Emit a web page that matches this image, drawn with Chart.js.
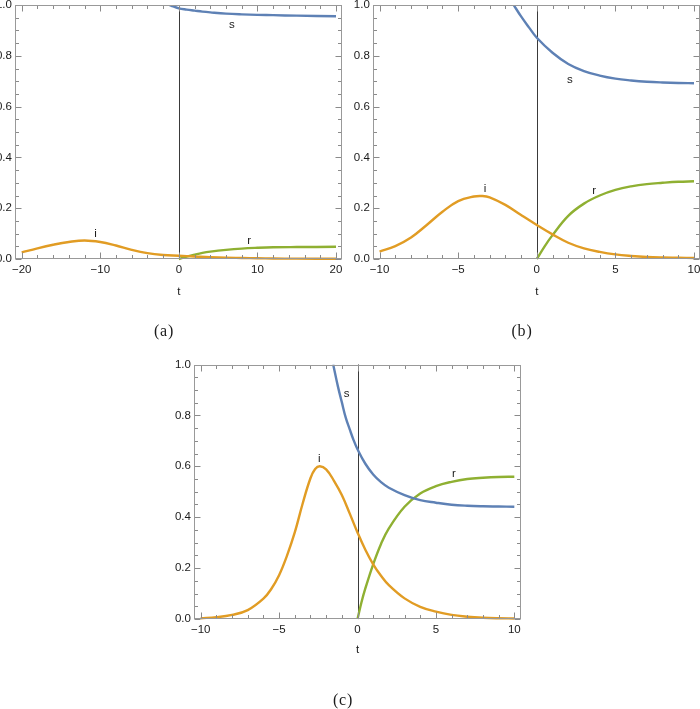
<!DOCTYPE html>
<html><head><meta charset="utf-8">
<script src="https://cdn.jsdelivr.net/npm/chart.js@4"></script>
<style>
html,body{margin:0;padding:0;width:700px;height:709px;overflow:hidden;background:#fff;position:relative}
canvas{position:absolute;left:-30px;top:-30px}
.cap{position:absolute;font-family:"Liberation Serif",serif;font-size:16px;color:#1a1a1a;width:60px;text-align:center;line-height:16px;letter-spacing:0.8px}
</style></head><body>
<canvas id="ca" width="760" height="770"></canvas>
<canvas id="cb" width="760" height="770"></canvas>
<canvas id="cc" width="760" height="770"></canvas>
<div class="cap" style="left:134px;top:323px">(a)</div>
<div class="cap" style="left:492px;top:323px">(b)</div>
<div class="cap" style="left:313px;top:692px">(c)</div>
<script>
// ---------- Data ----------
// Panel (a)
const tA_s = [-1.8, -1, 0, 1, 2, 3, 4, 6, 8, 10, 12, 15, 20];
const sA   = [1.008, 0.998, 0.987, 0.982, 0.978, 0.974, 0.971, 0.966, 0.963, 0.961, 0.960, 0.958, 0.956];
const tA_i = [-20, -18, -16, -14, -12, -10, -8, -6, -4, -2, 0, 2, 4, 6, 8, 10, 12, 15, 20];
const iA   = [0.026, 0.042, 0.056, 0.067, 0.073, 0.067, 0.053, 0.036, 0.023, 0.016, 0.013, 0.010, 0.007, 0.005, 0.004, 0.003, 0.002, 0.0015, 0.001];
const tA_r = [0, 1, 2, 3, 4, 6, 8, 10, 12, 15, 20];
const rA   = [0, 0.009, 0.017, 0.024, 0.029, 0.036, 0.041, 0.044, 0.046, 0.047, 0.048];
const xTicksA = [-20, -10, 0, 10, 20];

// Panel (b)
const tB_s = [-1.5, -1, -0.5, 0, 1, 2, 3, 4, 5, 6, 7, 8, 9, 10];
const sB   = [1.003, 0.955, 0.912, 0.871, 0.812, 0.768, 0.740, 0.722, 0.710, 0.703, 0.698, 0.695, 0.693, 0.692];
const tB_i = [-10, -9, -8, -7, -6, -5, -4, -3.5, -3, -2, -1, 0, 1, 2, 3, 4, 5, 6, 7, 8, 9, 10];
const iB   = [0.029, 0.051, 0.085, 0.134, 0.186, 0.228, 0.246, 0.248, 0.243, 0.213, 0.173, 0.134, 0.097, 0.064, 0.042, 0.028, 0.018, 0.012, 0.008, 0.006, 0.005, 0.004];
const tB_r = [0, 0.5, 1, 2, 3, 4, 5, 6, 7, 8, 9, 10];
const rB   = [0, 0.050, 0.094, 0.170, 0.218, 0.250, 0.272, 0.286, 0.295, 0.300, 0.304, 0.306];
const xTicksB = [-10, -5, 0, 5, 10];

// Panel (c)
const tC_s = [-1.55, -1.25, -1, -0.75, -0.5, -0.25, 0, 0.5, 1, 1.5, 2, 3, 4, 5, 6, 7, 8, 9, 10];
const sC   = [1.0, 0.914, 0.852, 0.791, 0.746, 0.703, 0.667, 0.610, 0.568, 0.538, 0.516, 0.487, 0.467, 0.457, 0.449, 0.445, 0.443, 0.442, 0.441];
const tC_i = [-10, -9, -8, -7, -6, -5.5, -5, -4.5, -4, -3.5, -3, -2.7, -2.4, -2, -1.5, -1, -0.5, 0, 0.5, 1, 1.5, 2, 3, 4, 5, 6, 7, 8, 9, 10];
const iC   = [0.003, 0.007, 0.016, 0.035, 0.080, 0.118, 0.172, 0.248, 0.340, 0.453, 0.553, 0.589, 0.600, 0.588, 0.543, 0.487, 0.415, 0.340, 0.272, 0.215, 0.170, 0.133, 0.081, 0.048, 0.029, 0.016, 0.009, 0.005, 0.003, 0.002];
const tC_r = [0, 0.25, 0.5, 1, 1.5, 2, 3, 4, 5, 6, 7, 8, 9, 10];
const rC   = [0, 0.065, 0.120, 0.215, 0.295, 0.356, 0.441, 0.493, 0.522, 0.539, 0.550, 0.555, 0.558, 0.559];
const xTicksC = [-10, -5, 0, 5, 10];

const yTicks = [0, 0.2, 0.4, 0.6, 0.8, 1.0];
const seriesNames = ['s', 'i', 'r'];
const seriesColors = ['#5E81B5', '#E19C24', '#8FB032'];

// ---------- Rendering ----------
const FONT = '"Liberation Sans", Arial, sans-serif';
const TXT = '#1a1a1a';

const frameTicks = {
  id: 'frameTicks',
  beforeDatasetsDraw(chart, _a, o) {
    const {ctx, chartArea: a} = chart; const xs = chart.scales.x;
    const px = Math.round(xs.getPixelForValue(0)) + 0.5;
    ctx.save(); ctx.strokeStyle = o.axisColor; ctx.lineWidth = 1;
    ctx.beginPath(); ctx.moveTo(px, a.top); ctx.lineTo(px, a.bottom); ctx.stroke();
    ctx.restore();
  },
  afterDatasetsDraw(chart, _a, o) {
    const {ctx, chartArea: a} = chart; const xs = chart.scales.x, ys = chart.scales.y;
    const L = Math.round(a.left) + 0.5, R = Math.round(a.right) - 0.5, T = Math.round(a.top) + 0.5, B = Math.round(a.bottom) - 0.5;
    ctx.save(); ctx.lineWidth = 1; ctx.strokeStyle = o.tickColor;
    ctx.beginPath();
    let n0 = Math.ceil(xs.min / o.xMinor - 1e-9), n1 = Math.floor(xs.max / o.xMinor + 1e-9);
    for (let n = n0; n <= n1; n++) {
      const v = n * o.xMinor;
      const major = Math.abs(v / o.xMajor - Math.round(v / o.xMajor)) < 1e-6;
      const len = major ? o.majorLen : o.minorLen;
      const p = Math.round(xs.getPixelForValue(v)) + 0.5;
      ctx.moveTo(p, B); ctx.lineTo(p, B - len);
      ctx.moveTo(p, T); ctx.lineTo(p, T + len);
    }
    n0 = Math.ceil(ys.min / o.yMinor - 1e-9); n1 = Math.floor(ys.max / o.yMinor + 1e-9);
    for (let n = n0; n <= n1; n++) {
      const v = n * o.yMinor;
      const major = Math.abs(v / o.yMajor - Math.round(v / o.yMajor)) < 1e-6;
      const len = major ? o.majorLen : o.minorLen;
      const p = Math.round(ys.getPixelForValue(v)) + 0.5;
      ctx.moveTo(L, p); ctx.lineTo(L + len, p);
      ctx.moveTo(R, p); ctx.lineTo(R - len, p);
    }
    ctx.stroke();
    ctx.strokeStyle = o.frameColor;
    ctx.strokeRect(L, T, R - L, B - T);
    ctx.fillStyle = TXT; ctx.font = '11.5px ' + FONT;
    ctx.textAlign = 'center'; ctx.textBaseline = 'middle';
    o.labels.forEach(l => ctx.fillText(l.text, xs.getPixelForValue(l.x), ys.getPixelForValue(l.y)));
    ctx.restore();
  }
};

function pts(ts, vs) { return ts.map((t, k) => ({x: t, y: vs[k]})); }
const fmt = v => (v < 0 ? '\u2212' : '') + Math.abs(v);

function makePanel(id, series, xTicks, xr, area, H, minor, major, labels) {
  const W = 30;
  const canvasW = 760, canvasH = 770, off = 30;
  const pad = {
    left: area.L + off - W,
    right: canvasW - (area.R + off),
    top: area.T + off,
    bottom: canvasH - (area.B + off + H)
  };
  new Chart(document.getElementById(id), {
    type: 'line',
    data: {
      datasets: series.map((s, k) => ({
        label: seriesNames[k], data: pts(s[0], s[1]),
        borderColor: seriesColors[k], borderWidth: 2.4, pointRadius: 0,
        tension: 0.4, fill: false,
        clip: {left: 0, top: 0, right: 0, bottom: 2}
      }))
    },
    options: {
      responsive: false, animation: false, devicePixelRatio: 1,
      layout: {padding: pad},
      plugins: {
        legend: {display: false}, tooltip: {enabled: false},
        frameTicks: {
          axisColor: '#3a3a3a', tickColor: '#8a8a8a', frameColor: '#999999',
          xMinor: minor, xMajor: major, yMinor: 0.05, yMajor: 0.2,
          majorLen: 6, minorLen: 3.5, labels: labels
        }
      },
      scales: {
        x: {
          type: 'linear', min: -xr, max: xr,
          afterBuildTicks: s => { s.ticks = xTicks.map(v => ({value: v})); },
          afterFit: s => { s.height = H; },
          grid: {display: false, drawTicks: false}, border: {display: false},
          ticks: {callback: v => fmt(v), color: TXT, font: {family: FONT, size: 11.5}, padding: 4, maxRotation: 0, autoSkip: false},
          title: {display: true, text: 't', color: TXT, font: {family: FONT, size: 11.5}, padding: 0}
        },
        y: {
          type: 'linear', min: 0, max: 1,
          afterBuildTicks: s => { s.ticks = yTicks.map(v => ({value: v})); },
          afterFit: s => { s.width = W; },
          grid: {display: false, drawTicks: false}, border: {display: false},
          ticks: {callback: v => v.toFixed(1), color: TXT, font: {family: FONT, size: 11.5}, padding: 3.5, autoSkip: false}
        }
      }
    },
    plugins: [frameTicks]
  });
}

makePanel('ca', [[tA_s, sA], [tA_i, iA], [tA_r, rA]], xTicksA, 20.8,
  {L: 15.4, R: 342.3, T: 5, B: 259}, 39.6, 2, 10,
  [{text: 's', x: 6.75, y: 0.921}, {text: 'i', x: -10.6, y: 0.101}, {text: 'r', x: 8.95, y: 0.072}]);
makePanel('cb', [[tB_s, sB], [tB_i, iB], [tB_r, rB]], xTicksB, 10.4,
  {L: 373.3, R: 700.3, T: 5, B: 259}, 39.6, 1, 5,
  [{text: 's', x: 2.1, y: 0.705}, {text: 'i', x: -3.29, y: 0.278}, {text: 'r', x: 3.65, y: 0.269}]);
makePanel('cc', [[tC_s, sC], [tC_i, iC], [tC_r, rC]], xTicksC, 10.4,
  {L: 194.4, R: 520.6, T: 364.5, B: 619}, 37.9, 1, 5,
  [{text: 's', x: -0.69, y: 0.886}, {text: 'i', x: -2.44, y: 0.628}, {text: 'r', x: 6.15, y: 0.572}]);
</script>
</body></html>
